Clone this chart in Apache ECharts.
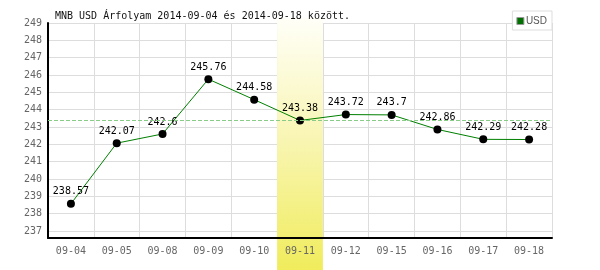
<!DOCTYPE html>
<html><head><meta charset="utf-8">
<script src="https://cdn.jsdelivr.net/npm/echarts@6/dist/echarts.min.js"></script>
<style>html,body{margin:0;padding:0;background:#fff}#c{width:600px;height:270px}</style>
</head><body><div id="c"></div>
<script>
const titleText = 'MNB USD Árfolyam 2014-09-04 és 2014-09-18 között.';
const seriesName = 'USD';
const categories = ['09-04','09-05','09-08','09-09','09-10','09-11','09-12','09-15','09-16','09-17','09-18'];
const usdValues = [238.57, 242.07, 242.6, 245.76, 244.58, 243.38, 243.72, 243.7, 242.86, 242.29, 242.28];
const highlightCategory = '09-11';
const referenceValue = 243.38;
const yMin = 236.6, yMax = 249;

const FONT = 'DejaVu Sans Mono';
const bandData = categories.map(c => c === highlightCategory ? 1 : '-');

const chart = echarts.init(document.getElementById('c'), null, {renderer: 'canvas'});
chart.setOption({
  animation: false,
  backgroundColor: '#fff',
  title: {
    text: titleText, left: 50, top: 6,
    textStyle: {fontFamily: FONT, fontSize: 10, fontWeight: 'normal', color: '#111'}
  },
  legend: {
    data: [{name: seriesName, icon: 'rect', itemStyle: {color: '#007000', borderColor: '#999', borderWidth: 1}}],
    right: 48, top: 11, orient: 'vertical',
    padding: [5, 5, 4, 4], itemGap: 0,
    itemWidth: 7, itemHeight: 7,
    borderColor: '#ddd', borderWidth: 1, backgroundColor: '#fff',
    textStyle: {fontFamily: 'Liberation Sans', fontSize: 10, color: '#555', padding: [0,0,0,-3]}
  },
  grid: [
    {left: 48, right: 48, top: 23, bottom: 32, containLabel: false},
    {left: 48, right: 48, top: 18, bottom: 0, containLabel: false}
  ],
  xAxis: [
    {type: 'category', gridIndex: 0, data: categories, boundaryGap: true, position: 'bottom', z: 0,
     axisLine: {show: false}, axisTick: {show: false}, axisLabel: {show: false},
     splitLine: {show: true, lineStyle: {color: '#ddd', width: 1}}},
    {type: 'category', gridIndex: 0, data: categories, boundaryGap: true, position: 'bottom', z: 5,
     axisLine: {show: true, lineStyle: {color: '#000', width: 2}}, axisTick: {show: false},
     axisLabel: {color: '#666', fontFamily: FONT, fontSize: 10, margin: 8}, splitLine: {show: false}},
    {type: 'category', gridIndex: 1, data: categories, boundaryGap: true, show: false}
  ],
  yAxis: [
    {type: 'value', gridIndex: 0, min: yMin, max: yMax, splitNumber: 12, z: 0,
     axisLine: {show: true, lineStyle: {color: '#000', width: 2}}, axisTick: {show: false},
     axisLabel: {color: '#666', fontFamily: FONT, fontSize: 10, margin: 6, showMinLabel: false},
     splitLine: {show: true, lineStyle: {color: '#ddd', width: 1}}},
    {type: 'value', gridIndex: 1, min: 0, max: 1, show: false}
  ],
  series: [
    {type: 'bar', xAxisIndex: 2, yAxisIndex: 1, data: bandData, barWidth: '100%', z: 1, silent: true,
     itemStyle: {color: new echarts.graphic.LinearGradient(0, 0, 0, 1, [
       {offset: 0, color: '#fffff8'}, {offset: 0.5, color: '#f8f5b0'}, {offset: 1, color: '#f0ec5c'}])}},
    {type: 'line', name: seriesName, xAxisIndex: 0, yAxisIndex: 0, data: usdValues, z: 3,
     symbol: 'circle', symbolSize: 8,
     lineStyle: {color: '#008000', width: 1},
     itemStyle: {color: '#000'},
     label: {show: true, position: 'top', distance: 3, color: '#000', fontFamily: FONT, fontSize: 10},
     markLine: {silent: true, symbol: 'none', label: {show: false},
       lineStyle: {color: '#88cc88', type: 'dashed', width: 1},
       data: [{yAxis: referenceValue}]}}
  ]
});
</script></body></html>
